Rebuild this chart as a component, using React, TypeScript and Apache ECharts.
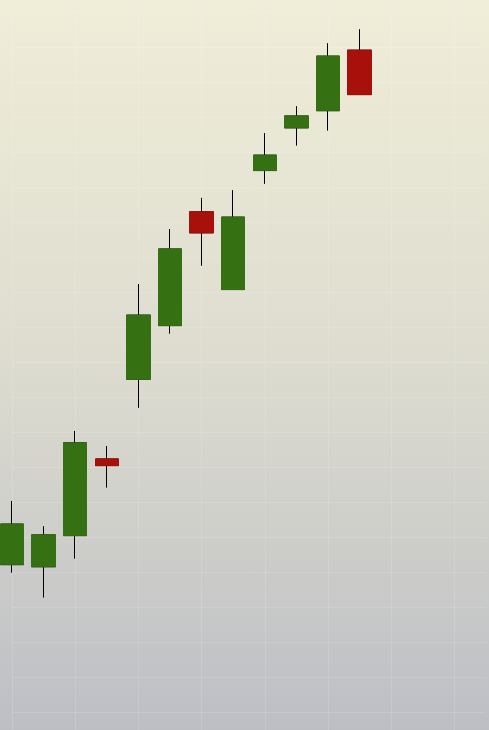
import React, { useEffect, useRef } from 'react';
import * as echarts from 'echarts';

// 16 slots on the time axis, only the first 12 carry a candle
const dates = [
  '06-02', '06-03', '06-04', '06-05', '06-06', '06-09', '06-10', '06-11',
  '06-12', '06-13', '06-16', '06-17', '06-18', '06-19', '06-20', '06-23',
];
const opens = [62.1, 61.5, 70.4, 92.3, 115.1, 130.4, 162.9, 140.7, 174.7, 186.9, 191.8, 209.1];
const closes = [73.7, 70.6, 96.9, 90.4, 133.4, 152.3, 156.9, 161.4, 179.1, 190.3, 207.4, 196.4];
const lows = [59.8, 52.7, 63.8, 84.1, 106.9, 128.1, 147.5, 140.6, 170.9, 181.8, 186.1, 196.3];
const highs = [80.3, 73.1, 100.3, 96.0, 142.3, 158.0, 166.9, 169.1, 185.4, 193.1, 211.1, 215.1];

const UP = '#357012';
const DOWN = '#a8100c';

const App: React.FC = () => {
  const chartRef = useRef<HTMLDivElement>(null);

  useEffect(() => {
    if (!chartRef.current) return;
    const chart = echarts.init(chartRef.current, undefined, { renderer: 'svg' });

    // full candles in black -> the wicks; the bodies are painted again on top
    const wickData = opens.map((o, i) => [o, closes[i], lows[i], highs[i]]);
    const bodyData = opens.map((o, i) => [o, closes[i], Math.min(o, closes[i]), Math.max(o, closes[i])]);

    const gridLine = { lineStyle: { color: 'rgba(255,255,255,0.13)', width: 1 } };

    chart.setOption({
      animation: false,
      backgroundColor: new echarts.graphic.LinearGradient(0, 0, 0, 1, [
        { offset: 0, color: '#f0eed8' },
        { offset: 0.5, color: '#dcdbcf' },
        { offset: 1, color: '#bbbdc4' },
      ]),
      // the div runs 17px below the window so the 10-line sits just off screen
      grid: { left: 12, right: 3, top: 12, bottom: 0 },
      xAxis: {
        type: 'category',
        data: dates,
        boundaryGap: false,
        axisLine: { show: false },
        axisTick: { show: false },
        axisLabel: { show: false },
        splitLine: { show: true, interval: 1, ...gridLine },
      },
      yAxis: {
        type: 'value',
        min: 10,
        max: 220,
        interval: 10,
        axisLine: { show: false },
        axisTick: { show: false },
        axisLabel: { show: false },
        splitLine: { show: true, ...gridLine },
      },
      series: [
        {
          name: 'wick',
          type: 'candlestick',
          data: wickData,
          barWidth: 24,
          clip: false,
          itemStyle: {
            color: '#000',
            color0: '#000',
            borderColor: '#000',
            borderColor0: '#000',
            borderWidth: 1,
          },
        },
        {
          name: 'body',
          type: 'candlestick',
          data: bodyData,
          barWidth: 24,
          clip: false,
          itemStyle: {
            color: UP,
            color0: DOWN,
            borderColor: UP,
            borderColor0: DOWN,
            borderWidth: 1,
          },
        },
      ],
    });

    return () => chart.dispose();
  }, []);

  return (
    <div
      ref={chartRef}
      style={{ position: 'fixed', left: 0, top: 0, width: 489, height: 747 }}
    />
  );
};

export default App;
